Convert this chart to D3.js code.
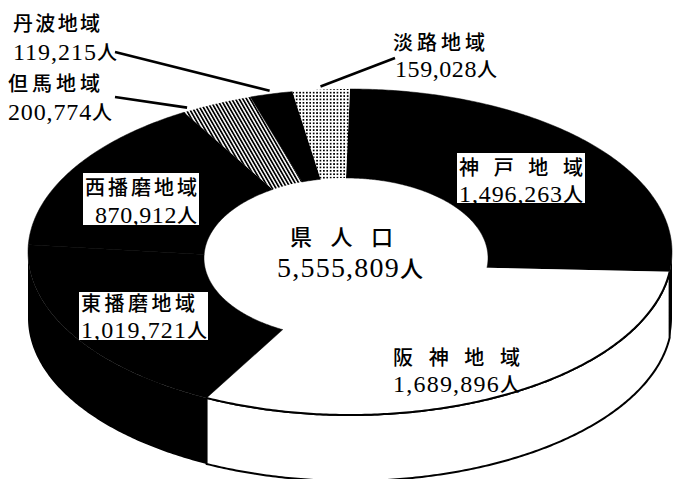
<!DOCTYPE html>
<html><head><meta charset="utf-8">
<script src="https://cdn.jsdelivr.net/npm/d3@7"></script>
<style>body{margin:0;background:#fff}svg{display:block}</style>
</head><body><svg id="c" width="674" height="479"></svg>
<script>
// ---- data ----
const regions = ["神戸地域","阪神地域","東播磨地域","西播磨地域","但馬地域","丹波地域","淡路地域"];
const populations = [1496263,1689896,1019721,870912,200774,119215,159028];
const fillKinds = ["black","white","black","black","hatch","black","dots"];
const totalTitle = "県人口";
const totalValue = 5555809;

// ---- layout (positions/styles only) ----
const G = {cx:350, cy:252, rx:322, ry:163, depth:66, icx:346, icy:258, irx:142, iry:80};
const layout = [
  {x:459, tb:175, vb:202, tw:124, vw:124, box:[457,153,128,50]},
  {x:393, tb:365, vb:392, tw:127, vw:127},
  {x:81,  tb:311, vb:338, tw:114, vw:126, box:[79,292,129,48]},
  {x:85,  tb:195, vb:223, tw:112, vw:102, vx:95, box:[83,173,116,52]},
  {x:8,   tb:91,  vb:120, tw:92,  vw:104, lead:[115,97], f:0.1},
  {x:13,  tb:31,  vb:60,  tw:87,  vw:104, lead:[115,52], f:0.5},
  {x:393, tb:50,  vb:77,  tw:92,  vw:102, vx:395, lead:[395,58], f:0.5}
];

const svg = d3.select("#c");
const defs = svg.append("defs");
const hatch = defs.append("pattern").attr("id","hatch").attr("patternUnits","userSpaceOnUse")
  .attr("width",3.2).attr("height",10).attr("patternTransform","rotate(-30)");
hatch.append("rect").attr("width",3.2).attr("height",10).attr("fill","#fff");
hatch.append("rect").attr("width",1.7).attr("height",10).attr("fill","#000");
const dots = defs.append("pattern").attr("id","dots").attr("patternUnits","userSpaceOnUse")
  .attr("width",3.4).attr("height",3.4);
dots.append("rect").attr("width",3.4).attr("height",3.4).attr("fill","#fff");
dots.append("rect").attr("width",1.7).attr("height",1.7).attr("fill","#000");

const fillOf = k => k==="hatch" ? "url(#hatch)" : k==="dots" ? "url(#dots)" : (k==="white" ? "#fff" : "#000");

const pie = d3.pie().sort(null).value(d=>d);
const arcs = pie(populations);

function outer(a, z=0, k=1){ return [G.cx + G.rx*k*Math.sin(a), G.cy - G.ry*k*Math.cos(a) + z]; }
function inner(a){ return [G.icx + G.irx*Math.sin(a), G.icy - G.iry*Math.cos(a)]; }
function samples(a0,a1){ const n=Math.max(2,Math.ceil(Math.abs(a1-a0)/0.01)); return d3.range(n+1).map(i=>a0+(a1-a0)*i/n); }
const line = d3.line();

// walls
arcs.forEach((d,i)=>{
  const b0 = Math.max(d.startAngle, Math.PI/2), b1 = Math.min(d.endAngle, 3*Math.PI/2);
  if (b1 <= b0) return;
  const pts = [...samples(b0,b1).map(a=>outer(a)), ...samples(b1,b0).map(a=>outer(a,G.depth))];
  svg.append("path").attr("d", line(pts)+"Z")
    .attr("fill", fillOf(fillKinds[i]))
    .attr("stroke", fillKinds[i]==="white" ? "#000" : "none")
    .attr("stroke-width", 2).attr("stroke-linejoin","round");
});
// tops
arcs.forEach((d,i)=>{
  const pts = [...samples(d.startAngle,d.endAngle).map(a=>outer(a)), ...samples(d.endAngle,d.startAngle).map(inner)];
  svg.append("path").attr("d", line(pts)+"Z").attr("fill", fillOf(fillKinds[i]))
    .attr("stroke", fillKinds[i]==="black" ? "#000" : "none").attr("stroke-width",0.5);
});
// outline of white top outer edge
arcs.forEach((d,i)=>{
  if (fillKinds[i] !== "white") return;
  svg.append("path").attr("d", line(samples(d.startAngle,d.endAngle).map(a=>outer(a))))
    .attr("fill","none").attr("stroke","#000").attr("stroke-width",2);
});

const fmt = d3.format(",");
const serif = "'Liberation Serif','Noto Sans CJK JP',serif";
const cjk = "'Noto Sans CJK JP','Noto Sans CJK SC',sans-serif";

function valueText(x, y, v, w, numSize, kSize){
  const t = svg.append("text").attr("x",x).attr("y",y).attr("fill","#000")
    .attr("textLength", w).attr("lengthAdjust","spacing");
  t.append("tspan").attr("font-family",serif).attr("font-size",numSize).text(fmt(v));
  t.append("tspan").attr("font-family",cjk).attr("font-size",kSize).attr("font-weight",500).text("人");
}
function titleText(x, y, s, w, size){
  svg.append("text").attr("x",x).attr("y",y).attr("fill","#000")
    .attr("font-family",cjk).attr("font-size",size).attr("font-weight",500)
    .attr("textLength", w).attr("lengthAdjust","spacing").text(s);
}

// leaders
arcs.forEach((d,i)=>{
  const L = layout[i];
  if (!L.lead) return;
  const a = d.startAngle + L.f*(d.endAngle-d.startAngle);
  const p = outer(a,0,1.02);
  svg.append("line").attr("x1",L.lead[0]).attr("y1",L.lead[1]).attr("x2",p[0]).attr("y2",p[1])
    .attr("stroke","#000").attr("stroke-width",2.6);
});

// labels
regions.forEach((r,i)=>{
  const L = layout[i];
  if (L.box) svg.append("rect").attr("x",L.box[0]).attr("y",L.box[1]).attr("width",L.box[2]).attr("height",L.box[3]).attr("fill","#fff");
  titleText(L.x, L.tb, r, L.tw, 20);
  valueText(L.vx ?? L.x, L.vb, populations[i], L.vw, 24, 20);
});

// centre
titleText(290, 245, totalTitle, 103, 22);
valueText(277, 277, totalValue, 146, 28, 23);
</script></body></html>
